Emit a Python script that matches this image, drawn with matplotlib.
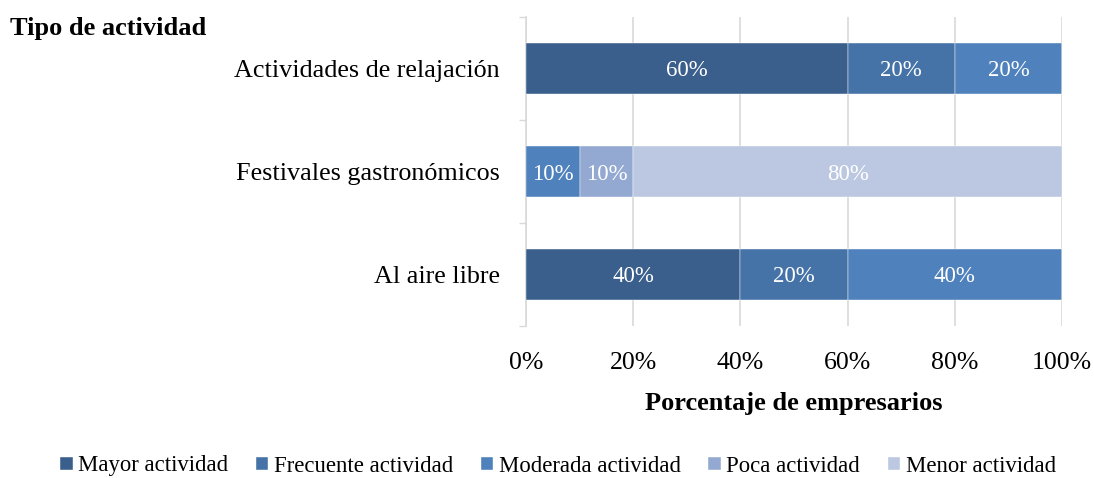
import matplotlib
matplotlib.use("Agg")
import matplotlib.pyplot as plt
import numpy as np

categories = ["Al aire libre", "Festivales gastronómicos", "Actividades de relajación"]
series_names = ["Mayor actividad", "Frecuente actividad", "Moderada actividad", "Poca actividad", "Menor actividad"]
mayor = [40, 0, 60]
frecuente = [20, 0, 20]
moderada = [40, 10, 20]
poca = [0, 10, 0]
menor = [0, 80, 0]
values = [mayor, frecuente, moderada, poca, menor]
colors = ["#3A5F8C", "#4572A7", "#4F81BD", "#93A9D1", "#BCC8E1"]
xticks = [0, 20, 40, 60, 80, 100]

plt.rcParams['font.family'] = ['Liberation Serif', 'DejaVu Serif']

fig = plt.figure(figsize=(10.94, 4.78), dpi=100)
ax = fig.add_axes([526/1094, 1-326/478, (1062-526)/1094, (326-17)/478])

y = np.arange(len(categories))
left = np.zeros(len(categories))
for name, vals, c in zip(series_names, values, colors):
    vals = np.array(vals, dtype=float)
    ax.barh(y, vals, left=left, height=0.5, color=c, label=name,
            edgecolor='white', linewidth=0.3, zorder=3)
    for yi, v, l in zip(y, vals, left):
        if v > 0:
            ax.text(l + v/2, yi, f"{int(v)}%", ha='center', va='center_baseline',
                    color='white', fontsize=16.5, zorder=4)
    left += vals

ax.set_xlim(0, 100)
ax.set_ylim(-0.5, 2.5)
ax.set_xticks(xticks)
ax.set_xticklabels([f"{t}%" for t in xticks], fontsize=18.6)
ax.tick_params(axis='x', length=0, pad=19)
ax.set_yticks(y)
ax.set_yticklabels(categories, fontsize=18.8)
ax.tick_params(axis='y', which='major', length=0, pad=19)
ax.set_yticks([-0.5, 0.5, 1.5, 2.5], minor=True)
ax.tick_params(axis='y', which='minor', length=5, color='#D9D9D9', width=1)
ax.grid(axis='x', color='#D9D9D9', linewidth=1.2, zorder=0)
for s in ['top', 'right', 'bottom']:
    ax.spines[s].set_visible(False)
ax.spines['left'].set_color('#D9D9D9')
ax.spines['left'].set_linewidth(1.2)

ax.set_xlabel("Porcentaje de empresarios", fontsize=19, fontweight='bold', labelpad=13)
fig.text(10/1094, 1-28/478, "Tipo de actividad", fontsize=19, fontweight='bold', va='center', ha='left')

handles, labels = ax.get_legend_handles_labels()
fig.legend(handles, labels, loc='center', bbox_to_anchor=(558/1094, 1-466/478), ncol=5,
           frameon=False, fontsize=16.4, handlelength=0.55, handleheight=0.55,
           handletextpad=0.25, columnspacing=1.2)

fig.savefig("out.png", dpi=100)
